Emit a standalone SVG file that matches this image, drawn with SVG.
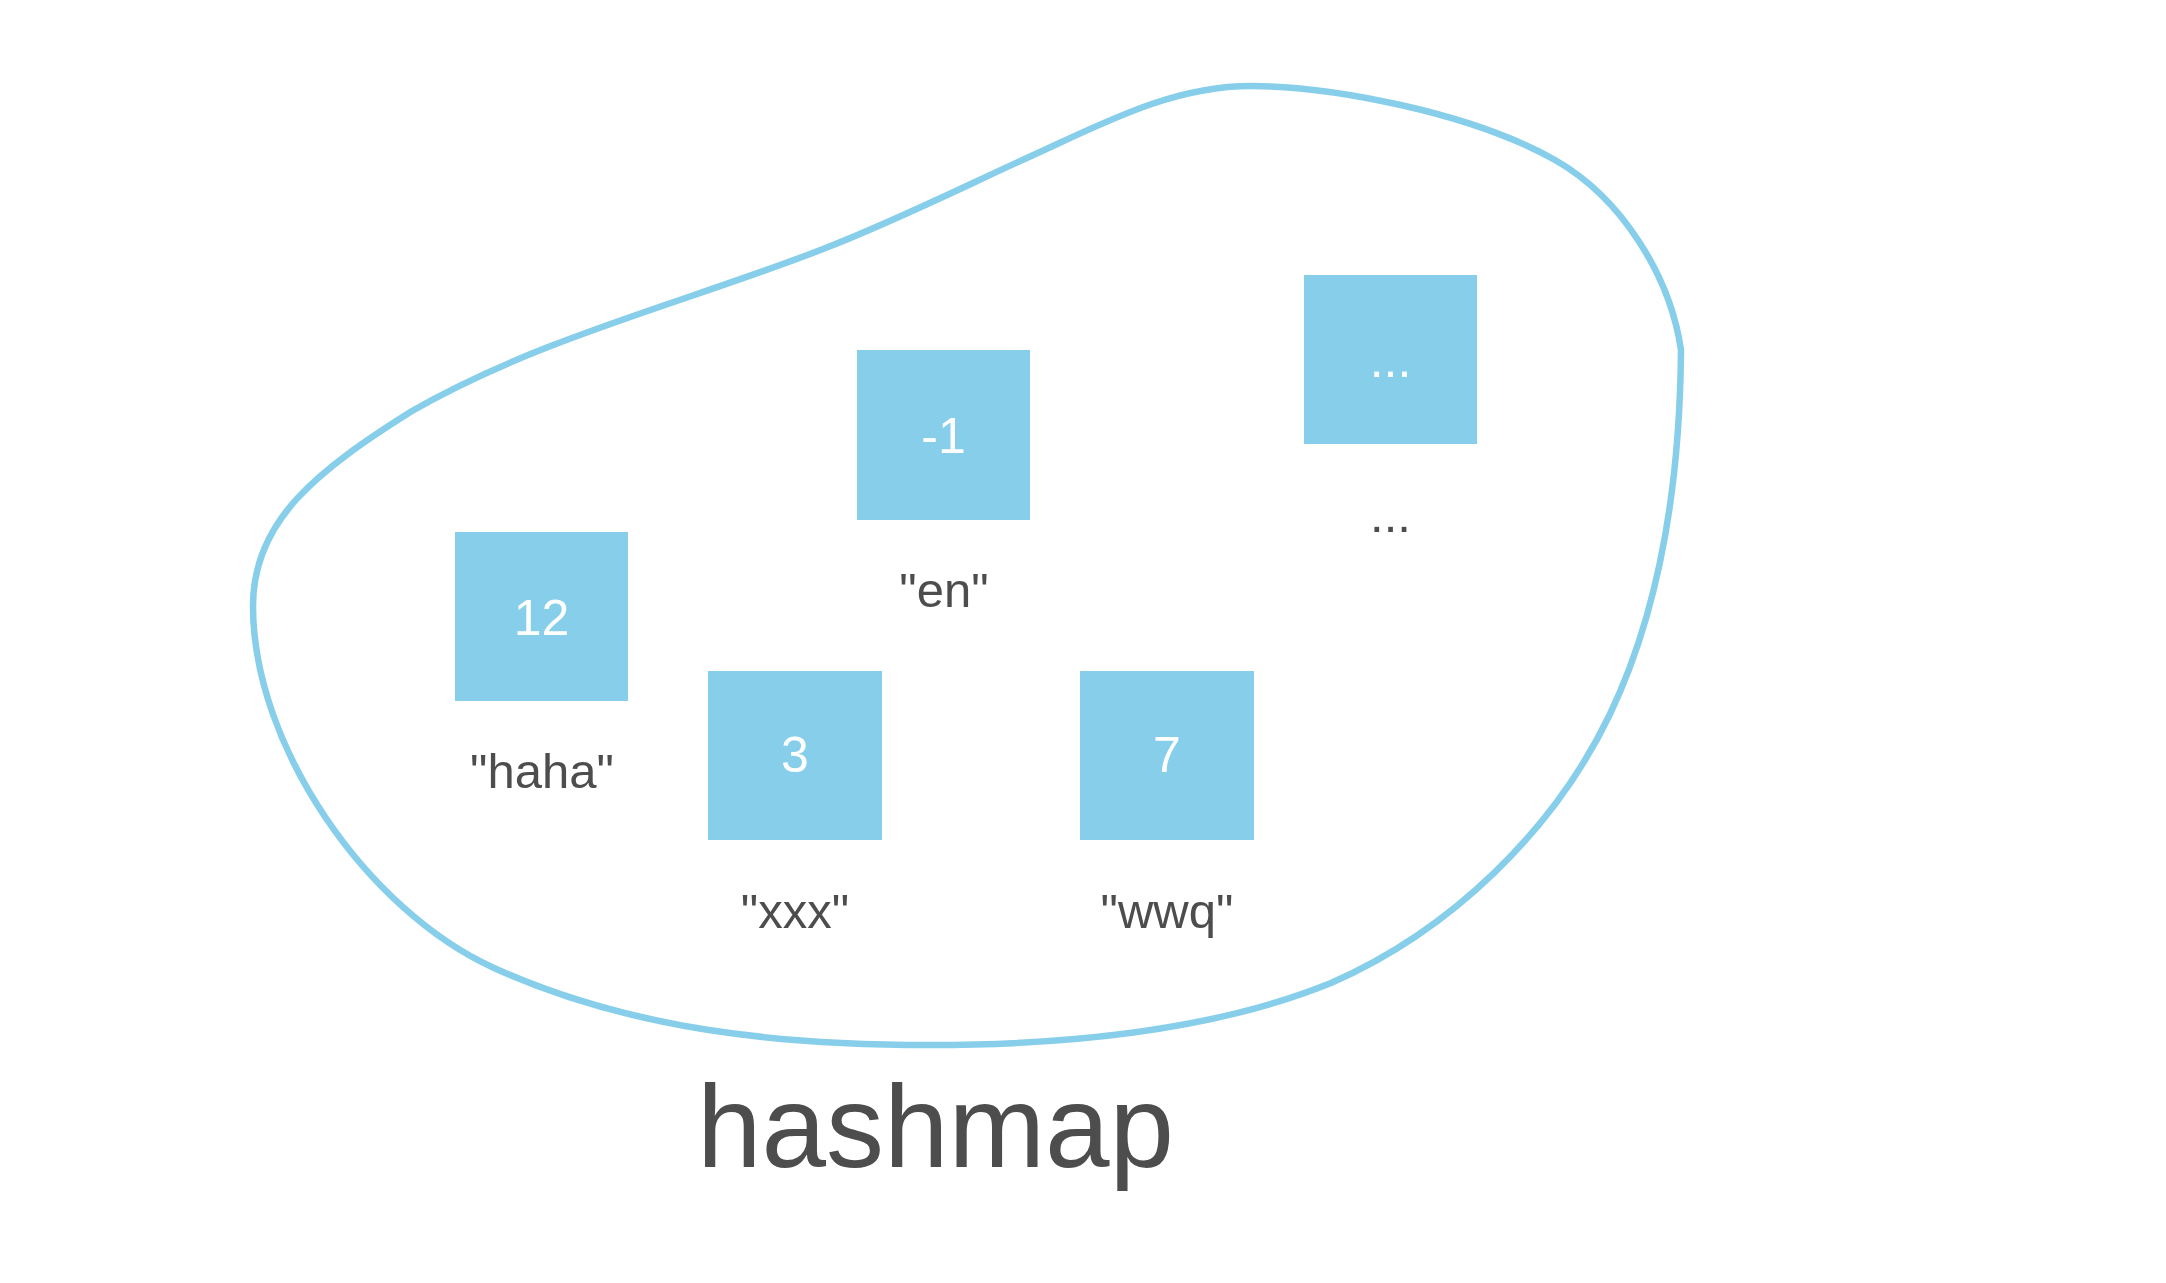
<svg xmlns="http://www.w3.org/2000/svg" width="2166" height="1283" viewBox="0 0 2166 1283">
<style>
.box{fill:#87CEEB}
.val{font-family:"Liberation Sans",Arial,sans-serif;font-size:50px;fill:#FFFFFF;text-anchor:middle}
.key{font-family:"Liberation Sans",Arial,sans-serif;font-size:49px;fill:#4D4D4D;text-anchor:middle}
.title{font-family:"Liberation Sans",Arial,sans-serif;font-size:116px;fill:#4D4D4D;text-anchor:middle}
.blob{fill:none;stroke:#87CEEB;stroke-width:6.5;stroke-linejoin:round}
</style>
<rect width="2166" height="1283" fill="#FFFFFF"/>
<g id="hashmap-outline">
<path class="blob" d="M 253 606 C 253 520 318 470 412 411 C 539 338 686 302.5 823 249 C 893 222 961 188 1029 157 C 1102 124 1171 86 1251 86 C 1330 86 1470 112 1555 160 C 1621 197.5 1670 275 1681 350 C 1680 473 1663 603 1610 714 C 1554 831 1450 931 1331 983 C 1215 1030 1070 1045 930 1045 C 780 1045 631 1030 494 968 C 366.5 910 253 746 253 606 Z"/>
</g>
<g id="node-haha">
<rect class="box" x="455" y="532" width="173" height="169"/>
<text class="val" x="541.5" y="635">12</text>
<text class="key" x="542" y="788">"haha"</text>
</g>
<g id="node-en">
<rect class="box" x="857" y="350" width="173" height="170"/>
<text class="val" x="943.5" y="453">-1</text>
<text class="key" x="944" y="607">"en"</text>
</g>
<g id="node-more">
<rect class="box" x="1304" y="275" width="173" height="169"/>
<text class="val" x="1390.5" y="377">...</text>
<text class="key" x="1390.5" y="532">...</text>
</g>
<g id="node-xxx">
<rect class="box" x="708" y="671" width="174" height="169"/>
<text class="val" x="795" y="772">3</text>
<text class="key" x="795" y="928">"xxx"</text>
</g>
<g id="node-wwq">
<rect class="box" x="1080" y="671" width="174" height="169"/>
<text class="val" x="1167" y="772">7</text>
<text class="key" x="1167" y="928">"wwq"</text>
</g>
<g id="connectors"></g>
<g id="label">
<text class="title" x="935.5" y="1167">hashmap</text>
</g>
</svg>
